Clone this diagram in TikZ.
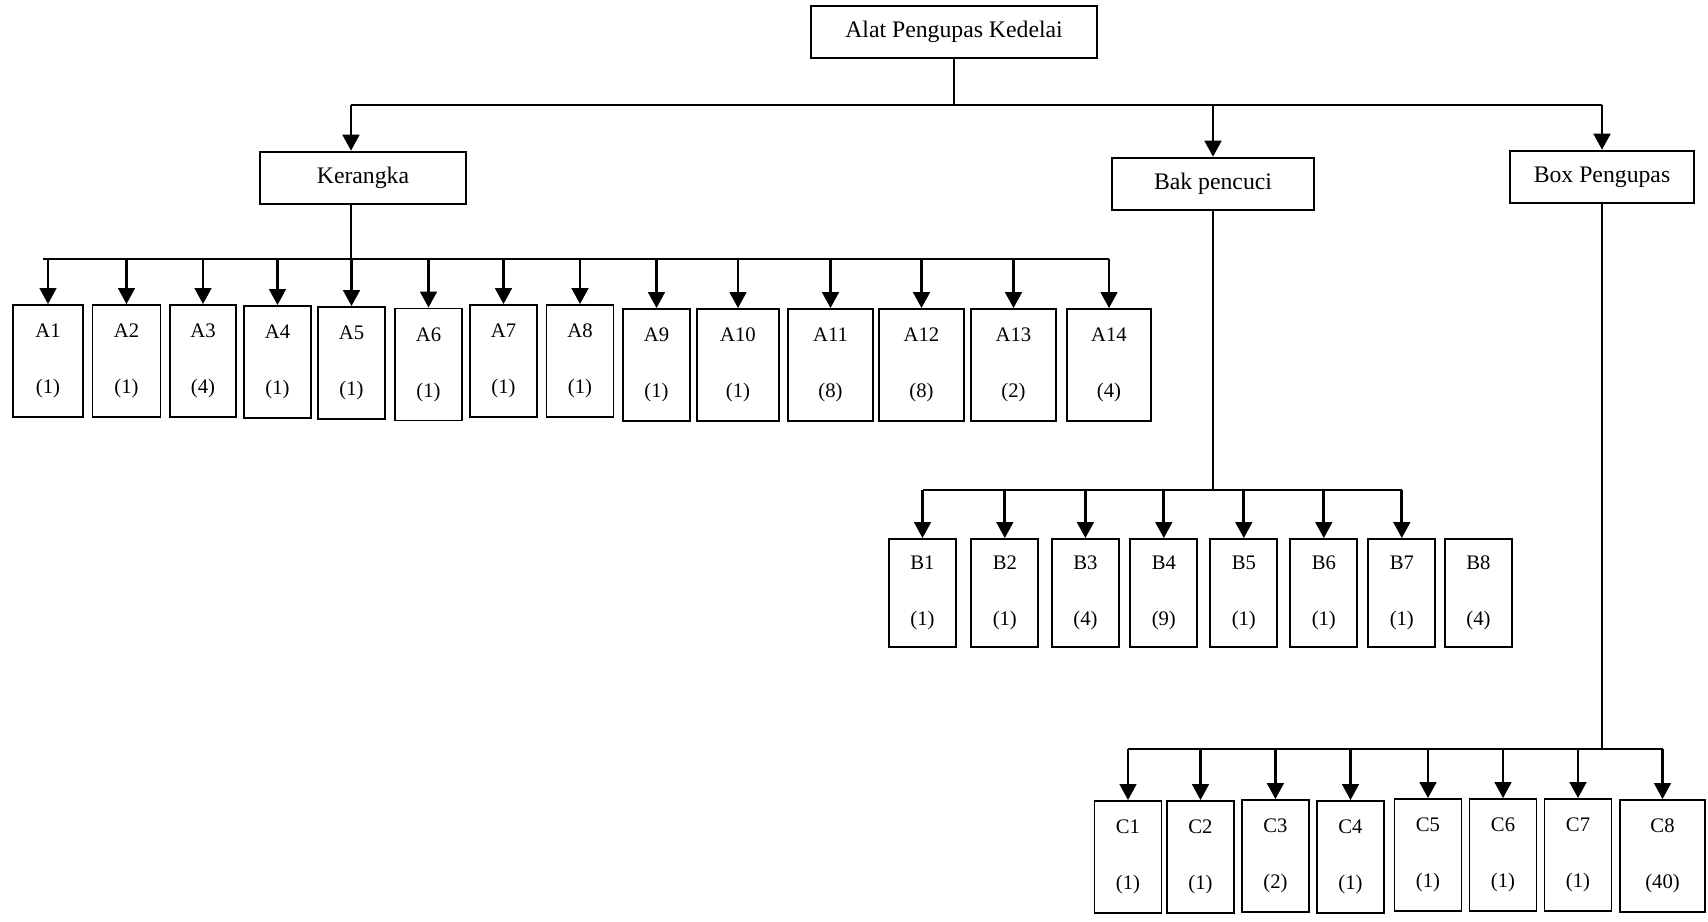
\documentclass[tikz,border=0pt]{standalone}
\usepackage{fontspec}
\setmainfont{Liberation Serif}
\usetikzlibrary{arrows.meta}

\begin{document}
\begin{tikzpicture}[x=0.75pt,y=0.75pt,yscale=-1,xscale=1,
	head/.style={draw,line width=1.4pt,inner sep=0pt,minimum height=39.5pt,font=\fontsize{17.8}{21}\selectfont},
	leaf/.style={draw,line width=1.4pt,inner sep=0pt,align=center,minimum width=50.25pt,minimum height=84pt,font=\fontsize{15.5}{18}\selectfont},
	bus/.style={line width=1.3pt},
	down/.style={line width=2pt,-{Triangle[length=12pt,width=12.5pt]}}]
	\useasboundingbox (0,0) rectangle (1708,921);
	% bus levels
	\coordinate (bus0) at (0,105);
	\coordinate (busA) at (0,259);
	\coordinate (busB) at (0,490);
	\coordinate (busC) at (0,749);
	\coordinate (kline) at (351,0);
	% main blocks
	\node[head,minimum width=215pt] (alat) at (954,32) {Alat Pengupas Kedelai};
	\node[head,minimum width=154pt] (kerangka) at (363,178) {Kerangka};
	\node[head,minimum width=151.5pt] (bak) at (1213,184) {Bak pencuci};
	\node[head,minimum width=138pt] (boxp) at (1602,177) {Box Pengupas};
	% Kerangka parts
	\node[leaf,minimum width=52.5pt] (A1) at (48,361) {A1\\[24pt](1)};
	\node[leaf,minimum width=51pt] (A2) at (126.5,361) {A2\\[24pt](1)};
	\node[leaf,minimum width=50pt] (A3) at (203,361) {A3\\[24pt](4)};
	\node[leaf] (A4) at (277.5,362) {A4\\[24pt](1)};
	\node[leaf] (A5) at (351.5,363) {A5\\[24pt](1)};
	\node[leaf] (A6) at (428.5,364.5) {A6\\[24pt](1)};
	\node[leaf] (A7) at (503.5,361) {A7\\[24pt](1)};
	\node[leaf] (A8) at (580,361) {A8\\[24pt](1)};
	\node[leaf] (A9) at (656.5,365) {A9\\[24pt](1)};
	\node[leaf,minimum width=61.5pt] (A10) at (738,365) {A10\\[24pt](1)};
	\node[leaf,minimum width=63.75pt] (A11) at (830.5,365) {A11\\[24pt](8)};
	\node[leaf,minimum width=63.75pt] (A12) at (921.5,365) {A12\\[24pt](8)};
	\node[leaf,minimum width=63.75pt] (A13) at (1013.5,365) {A13\\[24pt](2)};
	\node[leaf,minimum width=63.4pt] (A14) at (1109,365) {A14\\[24pt](4)};
	% Bak pencuci parts
	\node[leaf,minimum height=81pt] (B1) at (922.5,593) {B1\\[24pt](1)};
	\node[leaf,minimum height=81pt] (B2) at (1004.8,593) {B2\\[24pt](1)};
	\node[leaf,minimum height=81pt] (B3) at (1085.4,593) {B3\\[24pt](4)};
	\node[leaf,minimum height=81pt] (B4) at (1163.8,593) {B4\\[24pt](9)};
	\node[leaf,minimum height=81pt] (B5) at (1243.8,593) {B5\\[24pt](1)};
	\node[leaf,minimum height=81pt] (B6) at (1323.8,593) {B6\\[24pt](1)};
	\node[leaf,minimum height=81pt] (B7) at (1401.8,593) {B7\\[24pt](1)};
	\node[leaf,minimum height=81pt] (B8) at (1478.4,593) {B8\\[24pt](4)};
	% Box Pengupas parts
	\node[leaf] (C1) at (1128,857) {C1\\[24pt](1)};
	\node[leaf] (C2) at (1200.5,857) {C2\\[24pt](1)};
	\node[leaf] (C3) at (1275.4,856) {C3\\[24pt](2)};
	\node[leaf] (C4) at (1350.5,857) {C4\\[24pt](1)};
	\node[leaf] (C5) at (1428,855) {C5\\[24pt](1)};
	\node[leaf] (C6) at (1503,855) {C6\\[24pt](1)};
	\node[leaf] (C7) at (1578,855) {C7\\[24pt](1)};
	\node[leaf,minimum width=63.75pt] (C8) at (1662.5,856) {C8\\[24pt](40)};
	% top level
	\draw[bus] (alat.south) -- (alat.south |- bus0);
	\draw[bus] (kline |- bus0) -- (boxp.north |- bus0);
	\draw[down] (kline |- bus0) -- (kline |- kerangka.north);
	\draw[down] (bak.north |- bus0) -- (bak.north);
	\draw[down] (boxp.north |- bus0) -- (boxp.north);
	% Kerangka
	\draw[bus] (kline |- kerangka.south) -- (kline |- busA);
	\draw[bus] ([xshift=-4pt]A1.north |- busA) -- (A14.north |- busA);
	\draw[down] (A1.north |- busA) -- (A1.north);
	\draw[down] (A2.north |- busA) -- (A2.north);
	\draw[down] (A3.north |- busA) -- (A3.north);
	\draw[down] (A4.north |- busA) -- (A4.north);
	\draw[down] (A5.north |- busA) -- (A5.north);
	\draw[down] (A6.north |- busA) -- (A6.north);
	\draw[down] (A7.north |- busA) -- (A7.north);
	\draw[down] (A8.north |- busA) -- (A8.north);
	\draw[down] (A9.north |- busA) -- (A9.north);
	\draw[down] (A10.north |- busA) -- (A10.north);
	\draw[down] (A11.north |- busA) -- (A11.north);
	\draw[down] (A12.north |- busA) -- (A12.north);
	\draw[down] (A13.north |- busA) -- (A13.north);
	\draw[down] (A14.north |- busA) -- (A14.north);
	% Bak pencuci
	\draw[bus] (bak.south) -- (bak.south |- busB);
	\draw[bus] (B1.north |- busB) -- (B7.north |- busB);
	\draw[down] (B1.north |- busB) -- (B1.north);
	\draw[down] (B2.north |- busB) -- (B2.north);
	\draw[down] (B3.north |- busB) -- (B3.north);
	\draw[down] (B4.north |- busB) -- (B4.north);
	\draw[down] (B5.north |- busB) -- (B5.north);
	\draw[down] (B6.north |- busB) -- (B6.north);
	\draw[down] (B7.north |- busB) -- (B7.north);
	% Box Pengupas
	\draw[bus] (boxp.south) -- (boxp.south |- busC);
	\draw[bus] (C1.north |- busC) -- (C8.north |- busC);
	\draw[down] (C1.north |- busC) -- (C1.north);
	\draw[down] (C2.north |- busC) -- (C2.north);
	\draw[down] (C3.north |- busC) -- (C3.north);
	\draw[down] (C4.north |- busC) -- (C4.north);
	\draw[down] (C5.north |- busC) -- (C5.north);
	\draw[down] (C6.north |- busC) -- (C6.north);
	\draw[down] (C7.north |- busC) -- (C7.north);
	\draw[down] (C8.north |- busC) -- (C8.north);
\end{tikzpicture}
\end{document}
